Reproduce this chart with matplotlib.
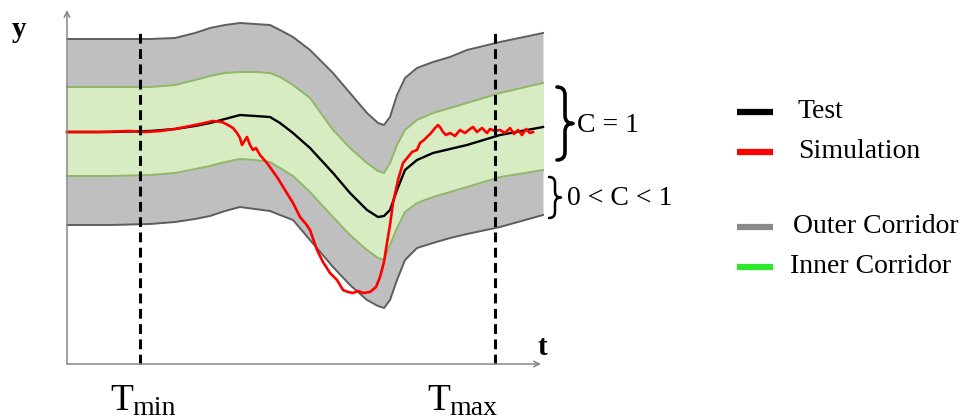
import numpy as np
import matplotlib.pyplot as plt
from matplotlib.path import Path
from matplotlib.patches import PathPatch

plt.rcParams['font.family'] = ['Liberation Serif', 'DejaVu Serif']

# time grid (pixel-like units along t) and corridor / test values (height above t axis)
t_grid = [67, 110, 150, 175, 195, 210, 225, 240, 255, 270, 280, 293, 310, 333,
          350, 367, 378, 384, 390, 397, 405, 417, 433, 450, 467, 500, 543]
outer_top = [325, 325, 325, 326, 331, 336, 339, 341, 340, 339, 334, 327, 314, 291,
             271, 251, 241, 239, 247, 269, 286, 296, 302, 307, 314, 322, 331]
inner_top = [277, 277, 277, 279, 284, 288, 291, 292, 292, 291, 287, 279, 266, 234,
             216, 201, 193, 191, 201, 219, 234, 244, 251, 256, 261, 271, 281]
test = [232, 232, 233, 235, 238, 241, 245, 249, 248, 247, 241, 231, 216, 191,
        171, 154, 147, 148, 154, 174, 194, 204, 211, 215, 219, 229, 237]
inner_bot = [188, 188, 189, 191, 195, 198, 202, 205, 204, 202, 196, 188, 172, 147,
             129, 114, 106, 104, 119, 136, 152, 161, 167, 172, 177, 187, 194]
outer_bot = [139, 139, 140, 142, 145, 148, 153, 157, 155, 153, 149, 144, 124, 97,
             79, 64, 58, 56, 64, 84, 104, 116, 121, 126, 130, 137, 149]

# simulation signal
t_sim = [67, 100, 130, 145, 160, 175, 190, 200, 213, 222, 228, 233, 237, 240, 242,
         245, 247, 250, 253, 256, 260, 267, 272, 277, 285, 293, 300, 306, 310, 317,
         323, 330, 337, 343, 348, 353, 358, 363, 370, 376, 380, 384, 387, 390, 393,
         398, 403, 408, 412, 417, 420, 424, 427, 431, 435, 438, 440, 443, 446, 450,
         455, 460, 465, 470, 473, 477, 482, 487, 490, 495, 500, 505, 510, 514, 518,
         522, 526, 530, 533]
sim = [232, 232, 233, 232, 233, 235, 238, 240, 243, 242, 239, 236, 231, 226, 219,
       224, 227, 219, 214, 216, 209, 201, 194, 187, 174, 161, 147, 140, 134, 114,
       102, 91, 84, 74, 72, 71, 73, 71, 72, 77, 87, 102, 121, 139, 161,
       184, 201, 207, 212, 214, 221, 224, 227, 231, 236, 239, 237, 232, 229, 231,
       228, 234, 231, 235, 237, 232, 236, 231, 235, 233, 234, 231, 236, 230, 234,
       229, 235, 231, 232]

t_limits = [140, 495]
t_labels = ['min', 'max']

legend_names = ['Test', 'Simulation', 'Outer Corridor', 'Inner Corridor']
legend_colors = ['black', 'red', '#8a8a8a', '#2ee82e']


def brace(ax, x0, y_bot, y_top, w, lw):
    """Right curly brace between y_bot and y_top, tip pointing right"""
    ym = (y_bot + y_top) / 2
    xm = x0 + w / 2
    r = w / 2
    verts = [(x0, y_top), (xm, y_top), (xm, y_top - r),
             (xm, ym + r),
             (xm, ym), (x0 + w, ym),
             (xm, ym), (xm, ym - r),
             (xm, y_bot + r),
             (xm, y_bot), (x0, y_bot)]
    codes = [Path.MOVETO, Path.CURVE3, Path.CURVE3,
             Path.LINETO,
             Path.CURVE3, Path.CURVE3,
             Path.CURVE3, Path.CURVE3,
             Path.LINETO,
             Path.CURVE3, Path.CURVE3]
    ax.add_patch(PathPatch(Path(verts, codes), fill=False, lw=lw, color='black',
                           capstyle='round', joinstyle='round'))


fig = plt.figure(figsize=(9.71, 4.2), dpi=100)
ax = fig.add_axes([0, 0, 1, 1])
ax.set_xlim(0, 971)
ax.set_ylim(-56, 364)
ax.axis('off')

# corridors
ax.fill_between(t_grid, outer_bot, outer_top, color='#bfbfbf', lw=0)
ax.fill_between(t_grid, inner_bot, inner_top, color='#d7ecc3', lw=0)
for curve in (outer_top, outer_bot):
    ax.plot(t_grid, curve, color='#5e5e5e', lw=1.4)
for curve in (inner_top, inner_bot):
    ax.plot(t_grid, curve, color='#8fb868', lw=1.4)

ax.plot(t_grid, test, color='black', lw=1.7)
ax.plot(t_sim, sim, color='red', lw=1.9)

# axes with arrows
arrow = dict(arrowstyle='->', color='#888888', lw=1.1, shrinkA=0, shrinkB=0)
ax.annotate('', xy=(67, 354), xytext=(67, 0), arrowprops=arrow)
ax.annotate('', xy=(541, 0), xytext=(67, 0), arrowprops=arrow)
ax.text(12, 327, 'y', fontsize=21, fontweight='bold', va='baseline')
ax.text(538, 9, 't', fontsize=21, fontweight='bold', va='baseline')

# T_min / T_max
for x, lab in zip(t_limits, t_labels):
    ax.plot([x, x], [0, 334], color='black', lw=2.2, dashes=(3.2, 1.8))
    x0 = x - 30 if lab == 'min' else x - 68
    ax.text(x0, -46, 'T', fontsize=27, va='baseline')
    ax.text(x0 + 22, -51, lab, fontsize=20, va='baseline')

# braces
brace(ax, 557, 204, 277, 16, 2.6)
brace(ax, 549, 146, 187, 12, 1.8)
ax.text(577, 232, 'C = 1', fontsize=20, va='baseline')
ax.text(567, 159, '0 < C < 1', fontsize=20, va='baseline')

# legend
sw_y = [252, 212, 137, 97]
tx_x = [798, 798, 793, 790]
for name, col, y, x in zip(legend_names, legend_colors, sw_y, tx_x):
    ax.plot([737, 773], [y, y], color=col, lw=4.5, solid_capstyle='butt')
    ax.text(x, y - 6, name, fontsize=20, va='baseline')

fig.savefig('out.png', dpi=100)
